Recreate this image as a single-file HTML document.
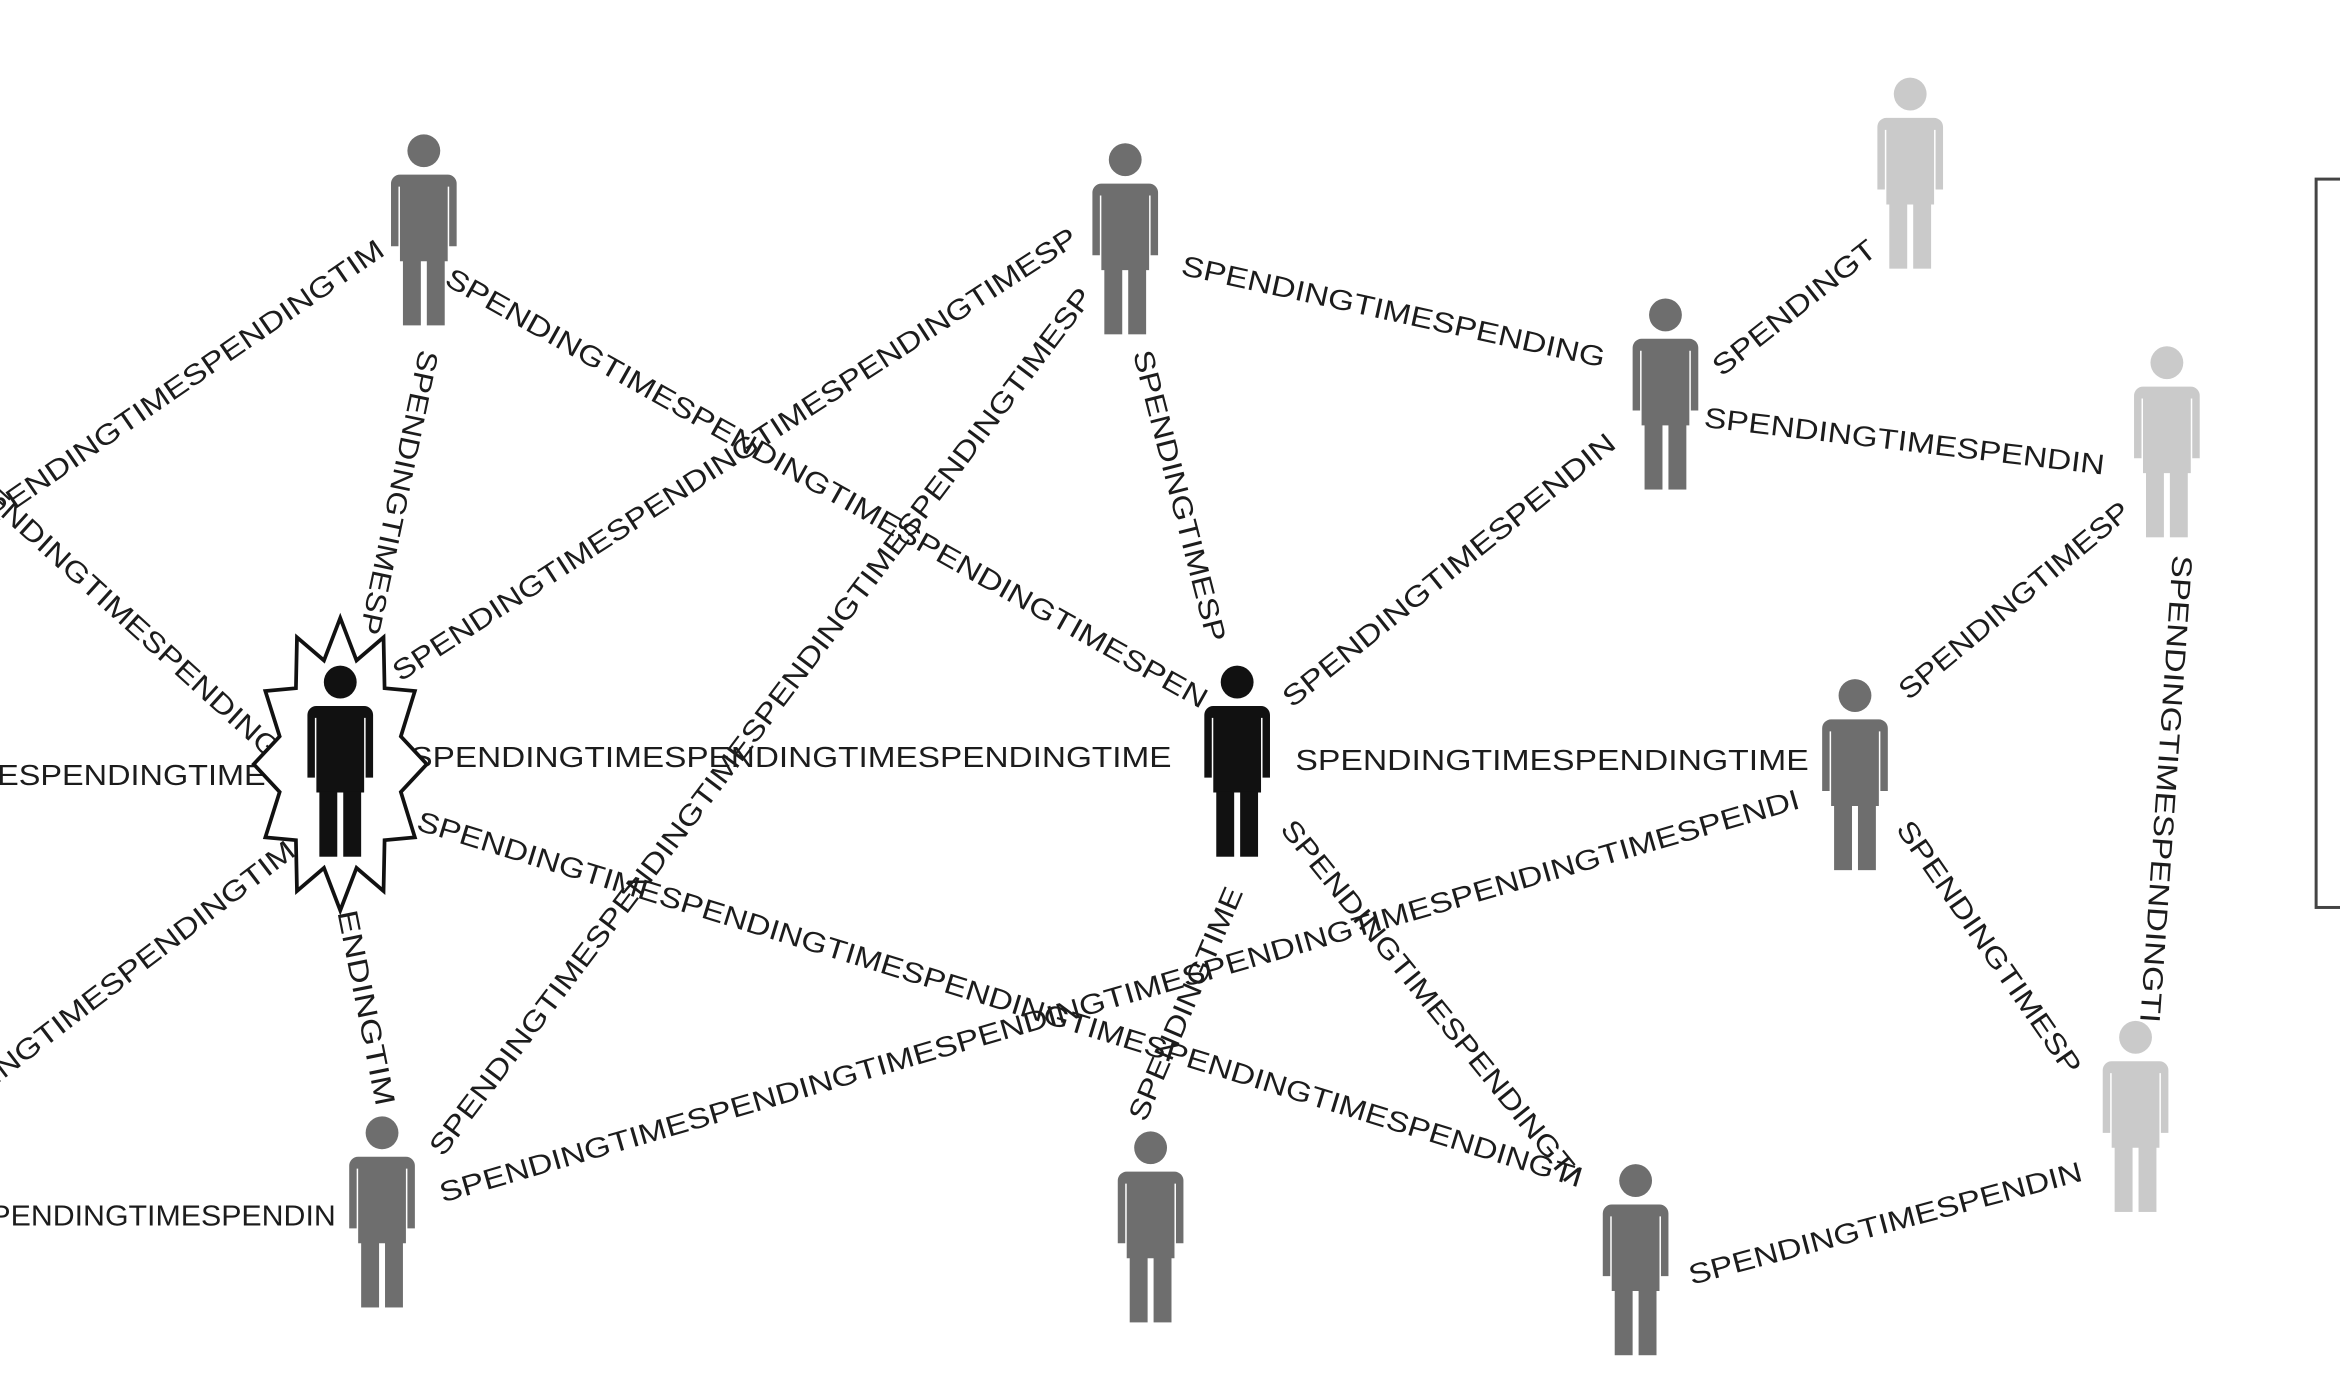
<!DOCTYPE html>
<html><head><meta charset="utf-8"><style>
html,body{margin:0;padding:0;background:#fff;}
svg{display:block;}
text{font-family:"Liberation Sans",sans-serif;font-size:19px;fill:#1c1c1c;dominant-baseline:central;}
</style></head><body>
<svg width="2340" height="1400" viewBox="0 0 1568 938" preserveAspectRatio="none" xmlns="http://www.w3.org/2000/svg">
<defs>
<symbol id="p" overflow="visible">
<circle cx="0" cy="11" r="11"/>
<path d="M-16,27 h32 a6,6 0 0 1 6,6 v42 h-5 v-40 h-1 v50 h-32 v-50 h-1 v40 h-5 v-42 a6,6 0 0 1 6,-6z"/>
<rect x="-14" y="84" width="12" height="44"/>
<rect x="2" y="84" width="12" height="44"/>
</symbol>
</defs>
<rect width="1568" height="938" fill="#fff"/>
<rect x="1552" y="120" width="40" height="488" fill="none" stroke="#444" stroke-width="2"/>

<text transform="translate(-19,354) rotate(-34.5)" textLength="333" lengthAdjust="spacingAndGlyphs">SPENDINGTIMESPENDINGTIM</text>
<text transform="translate(300,185) rotate(29.3)" textLength="582" lengthAdjust="spacingAndGlyphs">SPENDINGTIMESPENDINGTIMESPENDINGTIMESPEN</text>
<text transform="translate(287,235) rotate(101.9)" textLength="194" lengthAdjust="spacingAndGlyphs">SPENDINGTIMESP</text>
<text transform="translate(-30,310) rotate(42.2)" textLength="290" lengthAdjust="spacingAndGlyphs">SPENDINGTIMESPENDING</text>
<text transform="translate(-20,520)" textLength="198" lengthAdjust="spacingAndGlyphs">MESPENDINGTIME</text>
<text transform="translate(265,452) rotate(-32.9)" textLength="542" lengthAdjust="spacingAndGlyphs">SPENDINGTIMESPENDINGTIMESPENDINGTIMESP</text>
<text transform="translate(292,772) rotate(-52.9)" textLength="723" lengthAdjust="spacingAndGlyphs">SPENDINGTIMESPENDINGTIMESPENDINGTIMESPENDINGTIMESP</text>
<text transform="translate(275,508)" textLength="510" lengthAdjust="spacingAndGlyphs">SPENDINGTIMESPENDINGTIMESPENDINGTIME</text>
<text transform="translate(280,550) rotate(17.1)" textLength="816" lengthAdjust="spacingAndGlyphs">SPENDINGTIMESPENDINGTIMESPENDINGTIMESPENDINGTIMESPENDINGTI</text>
<text transform="translate(-69,770) rotate(-37.4)" textLength="333" lengthAdjust="spacingAndGlyphs">SPENDINGTIMESPENDINGTIM</text>
<text transform="translate(232,610) rotate(78.7)" textLength="133" lengthAdjust="spacingAndGlyphs">ENDINGTIM</text>
<text transform="translate(-20,815)" textLength="245" lengthAdjust="spacingAndGlyphs">SPENDINGTIMESPENDIN</text>
<text transform="translate(295,800) rotate(-16.2)" textLength="948" lengthAdjust="spacingAndGlyphs">SPENDINGTIMESPENDINGTIMESPENDINGTIMESPENDINGTIMESPENDINGTIMESPENDI</text>
<text transform="translate(765,235) rotate(75.6)" textLength="201" lengthAdjust="spacingAndGlyphs">SPENDINGTIMESP</text>
<text transform="translate(792,178) rotate(12.4)" textLength="290" lengthAdjust="spacingAndGlyphs">SPENDINGTIMESPENDING</text>
<text transform="translate(862,470) rotate(-38.8)" textLength="280" lengthAdjust="spacingAndGlyphs">SPENDINGTIMESPENDIN</text>
<text transform="translate(1150,248) rotate(-38.3)" textLength="134" lengthAdjust="spacingAndGlyphs">SPENDINGT</text>
<text transform="translate(1142,280) rotate(6.8)" textLength="270" lengthAdjust="spacingAndGlyphs">SPENDINGTIMESPENDIN</text>
<text transform="translate(868,510)" textLength="344" lengthAdjust="spacingAndGlyphs">SPENDINGTIMESPENDINGTIME</text>
<text transform="translate(1275,465) rotate(-39.8)" textLength="195" lengthAdjust="spacingAndGlyphs">SPENDINGTIMESP</text>
<text transform="translate(1462,372) rotate(94)" textLength="314" lengthAdjust="spacingAndGlyphs">SPENDINGTIMESPENDINGTI</text>
<text transform="translate(1275,552) rotate(55.3)" textLength="202" lengthAdjust="spacingAndGlyphs">SPENDINGTIMESP</text>
<text transform="translate(1132,855) rotate(-14.9)" textLength="272" lengthAdjust="spacingAndGlyphs">SPENDINGTIMESPENDIN</text>
<text transform="translate(862,552) rotate(51)" textLength="306" lengthAdjust="spacingAndGlyphs">SPENDINGTIMESPENDINGTI</text>
<text transform="translate(762,750) rotate(-67)" textLength="168" lengthAdjust="spacingAndGlyphs">SPENDINGTIME</text>

<polygon fill="#fff" stroke="#111" stroke-width="2.5" points="286,512 268.6,530.6 278,561 257.7,562.9 257,597 238.9,581.5 228,610 217.1,581.5 199,597 198.3,562.9 177.8,561 187.4,530.6 170,512 187.4,493.4 177.8,463 198.3,461.1 199,427 217.1,442.5 228,414 238.9,442.5 257,427 257.7,461.1 278,463 268.6,493.4"/>

<use href="#p" x="284" y="90" fill="#6e6e6e"/>
<use href="#p" x="754" y="96" fill="#6e6e6e"/>
<use href="#p" x="1280" y="52" fill="#cacaca"/>
<use href="#p" x="1116" y="200" fill="#6e6e6e"/>
<use href="#p" x="1452" y="232" fill="#cacaca"/>
<use href="#p" x="228" y="446" fill="#111"/>
<use href="#p" x="829" y="446" fill="#111"/>
<use href="#p" x="1243" y="455" fill="#6e6e6e"/>
<use href="#p" x="256" y="748" fill="#6e6e6e"/>
<use href="#p" x="771" y="758" fill="#6e6e6e"/>
<use href="#p" x="1096" y="780" fill="#6e6e6e"/>
<use href="#p" x="1431" y="684" fill="#cacaca"/>
</svg>
</body></html>
